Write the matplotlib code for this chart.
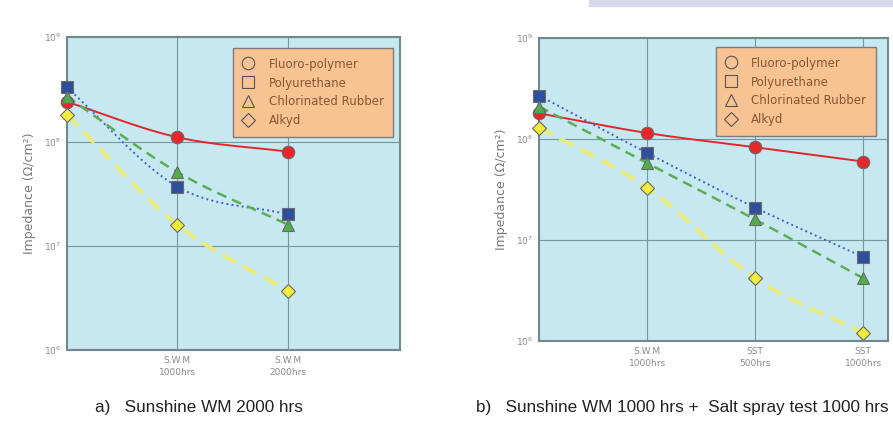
import matplotlib.pyplot as plt
import numpy as np
from matplotlib.lines import Line2D
from matplotlib.patches import Rectangle

###############################################################################
# Data (impedance, ohm/cm2)
series_names = ["Fluoro-polymer", "Polyurethane", "Chlorinated Rubber", "Alkyd"]

ticks_a = ["S.W.M\n1000hrs", "S.W.M\n2000hrs"]
fluoro_a = [2.4e8, 1.1e8, 8.0e7]
poly_a = [3.3e8, 3.7e7, 2.0e7]
chlor_a = [2.7e8, 5.1e7, 1.6e7]
alkyd_a = [1.8e8, 1.6e7, 3.7e6]

ticks_b = ["S.W.M\n1000hrs", "SST\n500hrs", "SST\n1000hrs"]
fluoro_b = [1.8e8, 1.15e8, 8.3e7, 6.0e7]
poly_b = [2.7e8, 7.3e7, 2.1e7, 6.8e6]
chlor_b = [2.1e8, 5.8e7, 1.6e7, 4.2e6]
alkyd_b = [1.3e8, 3.3e7, 4.2e6, 1.2e6]

###############################################################################
# Styles
styles = [
    dict(color="#E3262B", ls="-", lw=1.4, marker="o", mfc="#E8262A", ms=9),
    dict(color="#3F62C4", ls=":", lw=1.4, marker="s", mfc="#2F4E9E", ms=8),
    dict(color="#5BAE55", ls=(0, (4, 2.5)), lw=1.8, marker="^", mfc="#4FAE4A", ms=9),
    dict(color="#E9EC78", ls=(0, (4, 2)), lw=2.8, marker="D", mfc="#F2EC3A", ms=7),
]


def smooth(x, y, n=30):
    """Catmull-Rom curve through the points, in log space (drawing only)."""
    x = np.asarray(x, float)
    ly = np.log10(y)
    px = np.concatenate([[2 * x[0] - x[1]], x, [2 * x[-1] - x[-2]]])
    py = np.concatenate([[2 * ly[0] - ly[1]], ly, [2 * ly[-1] - ly[-2]]])
    xs, ys = [], []
    t = np.linspace(0, 1, n)
    for i in range(1, len(px) - 2):
        for p, out in ((px, xs), (py, ys)):
            p0, p1, p2, p3 = p[i - 1], p[i], p[i + 1], p[i + 2]
            out.extend(0.5 * (2 * p1 + (-p0 + p2) * t
                              + (2 * p0 - 5 * p1 + 4 * p2 - p3) * t ** 2
                              + (-p0 + 3 * p1 - 3 * p2 + p3) * t ** 3))
    return np.array(xs), 10 ** np.array(ys)


def draw_panel(ax, data, ticks, xmax, legend_anchor):
    ax.set_facecolor("#C8E8F1")
    x = np.arange(len(data[0]))
    for vals, st in zip(data, styles):
        sx, sy = smooth(x, vals)
        ax.plot(sx, sy, color=st["color"], ls=st["ls"], lw=st["lw"], zorder=2)
        ax.plot(x, vals, ls="none", marker=st["marker"], ms=st["ms"],
                mfc=st["mfc"], mec="#6A6A6A", mew=0.8, zorder=3, clip_on=False)
    ax.set_yscale("log")
    ax.set_ylim(1e6, 1e9)
    ax.set_xlim(0, xmax)
    ax.set_yticks([1e6, 1e7, 1e8, 1e9])
    ax.set_yticklabels([r"$10^6$", r"$10^7$", r"$10^8$", r"$10^9$"])
    ax.yaxis.set_minor_locator(plt.NullLocator())
    ax.set_xticks(np.arange(1, len(ticks) + 1))
    ax.set_xticklabels(ticks, linespacing=1.5)
    ax.tick_params(length=0, labelsize=6.5, colors="#8A8A8A", pad=4)
    ax.grid(True, color="#74989F", lw=0.8)
    ax.set_axisbelow(True)
    for sp in ax.spines.values():
        sp.set_color("#70898C")
        sp.set_linewidth(1.5)
    ax.set_ylabel("Impedance (\u03a9/cm\u00b2)", fontsize=9, color="#7A7A7A",
                  labelpad=6)

    handles = [Line2D([], [], ls="none", marker=st["marker"], mfc="none",
                      mec="#555555", mew=0.8, ms=st["ms"])
               for st in styles]
    leg = ax.legend(handles, series_names, loc="upper right",
                    bbox_to_anchor=legend_anchor, fancybox=False,
                    frameon=True, fontsize=8.5, handletextpad=1.3,
                    borderpad=0.8, labelspacing=0.5, handlelength=0.9,
                    borderaxespad=0)
    frame = leg.get_frame()
    frame.set_facecolor("#F8C393")
    frame.set_edgecolor("#7C7C7C")
    frame.set_alpha(1)
    for txt in leg.get_texts():
        txt.set_color("#8C5530")


fig = plt.figure(figsize=(8.93, 4.28), dpi=100)
fig.patches.append(Rectangle((0.66, 0.985), 0.34, 0.015, transform=fig.transFigure,
                             color="#D8D9E6", zorder=0))

ax1 = fig.add_axes([0.075, 0.182, 0.373, 0.731])
draw_panel(ax1, [fluoro_a, poly_a, chlor_a, alkyd_a], ticks_a, 3.02,
           (0.979, 0.965))

ax2 = fig.add_axes([0.6036, 0.203, 0.3908, 0.708])
draw_panel(ax2, [fluoro_b, poly_b, chlor_b, alkyd_b], ticks_b, 3.23,
           (0.965, 0.97))

fig.text(0.106, 0.03, "a)   Sunshine WM 2000 hrs", fontsize=12.3,
         family="Liberation Sans", color="#222222", va="bottom")
fig.text(0.533, 0.03, "b)   Sunshine WM 1000 hrs +  Salt spray test 1000 hrs",
         fontsize=12.3, family="Liberation Sans", color="#222222", va="bottom")

fig.savefig("out.png", dpi=100)
